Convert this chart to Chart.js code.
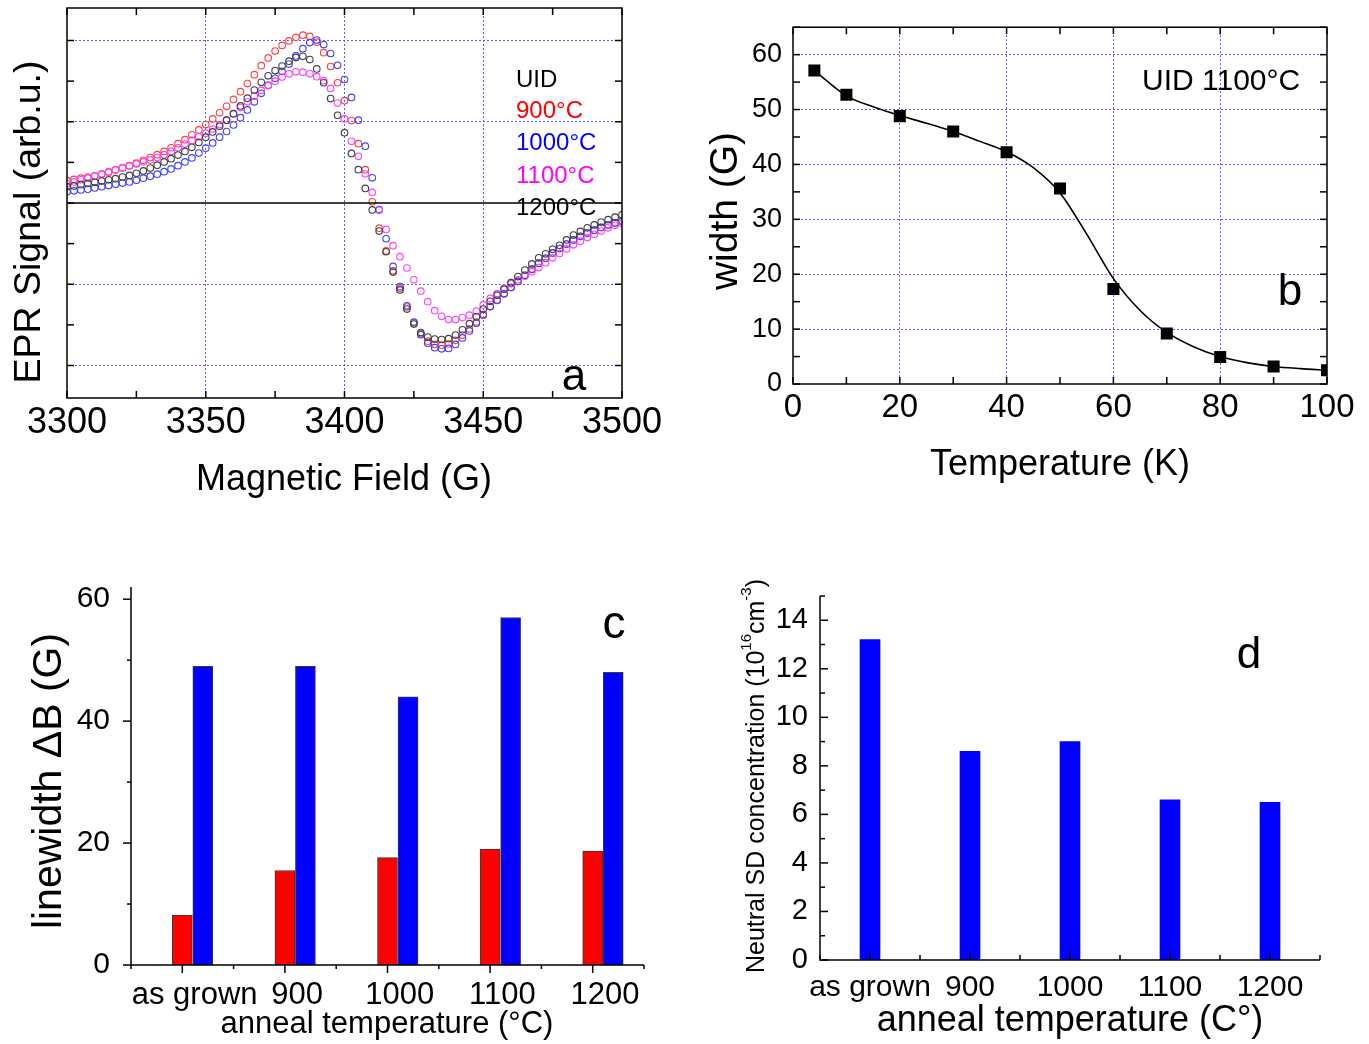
<!DOCTYPE html>
<html>
<head>
<meta charset="utf-8">
<script src="https://cdn.jsdelivr.net/npm/chart.js@4.4.1/dist/chart.umd.min.js"></script>
<style>
  html, body { margin: 0; padding: 0; background: #fff; }
  #wrap { position: relative; width: 1369px; height: 1044px; }
  #wrap canvas { position: absolute; left: 0; top: 0; width: 1369px; height: 1044px; }
</style>
</head>
<body>
<div id="wrap">
  <canvas id="chartA" width="1369" height="1044"></canvas>
  <canvas id="chartB" width="1369" height="1044"></canvas>
  <canvas id="chartC" width="1369" height="1044"></canvas>
  <canvas id="chartD" width="1369" height="1044"></canvas>
</div>
<script>
// ---- panel a : EPR spectra (signal in arb. units, 1 unit = one tick)
const fieldG = [
  3300, 3302.5, 3305, 3307.5, 3310, 3312.5, 3315, 3317.5, 3320, 3322.5,
  3325, 3327.5, 3330, 3332.5, 3335, 3337.5, 3340, 3342.5, 3345, 3347.5,
  3350, 3352.5, 3355, 3357.5, 3360, 3362.5, 3365, 3367.5, 3370, 3372.5,
  3375, 3377.5, 3380, 3382.5, 3385, 3387.5, 3390, 3392.5, 3395, 3397.5,
  3400, 3402.5, 3405, 3407.5, 3410, 3412.5, 3415, 3417.5, 3420, 3422.5,
  3425, 3427.5, 3430, 3432.5, 3435, 3437.5, 3440, 3442.5, 3445, 3447.5,
  3450, 3452.5, 3455, 3457.5, 3460, 3462.5, 3465, 3467.5, 3470, 3472.5,
  3475, 3477.5, 3480, 3482.5, 3485, 3487.5, 3490, 3492.5, 3495, 3497.5,
  3500
];
const sig900 = [
  0.55, 0.58, 0.61, 0.64, 0.67, 0.71, 0.76, 0.81, 0.86, 0.92,
  0.98, 1.05, 1.12, 1.19, 1.27, 1.36, 1.46, 1.56, 1.68, 1.80,
  1.93, 2.07, 2.22, 2.38, 2.55, 2.74, 2.94, 3.16, 3.38, 3.57,
  3.74, 3.88, 3.99, 4.08, 4.13, 4.10, 3.96, 3.70, 3.36, 2.96,
  2.52, 2.03, 1.46, 0.82, 0.03, -0.62, -1.18, -1.67, -2.10, -2.56,
  -2.95, -3.22, -3.40, -3.48, -3.50, -3.47, -3.38, -3.25, -3.10, -2.93,
  -2.74, -2.55, -2.40, -2.24, -2.08, -1.93, -1.78, -1.63, -1.48, -1.36,
  -1.23, -1.12, -1.01, -0.91, -0.82, -0.74, -0.67, -0.60, -0.54, -0.49,
  -0.45
];
const sig1000 = [
  0.28, 0.30, 0.32, 0.34, 0.37, 0.40, 0.43, 0.46, 0.49, 0.52,
  0.56, 0.61, 0.66, 0.71, 0.77, 0.84, 0.92, 1.01, 1.11, 1.23,
  1.35, 1.48, 1.62, 1.76, 1.92, 2.10, 2.29, 2.49, 2.70, 2.90,
  3.07, 3.24, 3.42, 3.62, 3.80, 3.95, 4.01, 3.90, 3.68, 3.39,
  3.04, 2.60, 2.04, 1.40, 0.62, -0.16, -0.88, -1.56, -2.06, -2.53,
  -2.93, -3.24, -3.45, -3.56, -3.59, -3.58, -3.48, -3.32, -3.15, -2.96,
  -2.76, -2.55, -2.39, -2.23, -2.08, -1.93, -1.78, -1.63, -1.48, -1.36,
  -1.23, -1.12, -1.01, -0.91, -0.82, -0.74, -0.67, -0.60, -0.54, -0.49,
  -0.45
];
const sig1100 = [
  0.48, 0.52, 0.57, 0.61, 0.66, 0.72, 0.77, 0.82, 0.87, 0.91,
  0.96, 1.01, 1.06, 1.12, 1.19, 1.27, 1.36, 1.45, 1.54, 1.63,
  1.72, 1.82, 1.93, 2.04, 2.19, 2.35, 2.49, 2.63, 2.77, 2.89,
  3.00, 3.10, 3.18, 3.23, 3.22, 3.18, 3.11, 3.01, 2.82, 2.46,
  2.07, 1.52, 1.15, 0.72, 0.26, -0.18, -0.65, -1.05, -1.32, -1.60,
  -1.89, -2.17, -2.43, -2.65, -2.79, -2.87, -2.87, -2.82, -2.76, -2.66,
  -2.51, -2.35, -2.23, -2.10, -1.99, -1.89, -1.80, -1.69, -1.59, -1.47,
  -1.35, -1.24, -1.13, -1.03, -0.94, -0.85, -0.77, -0.69, -0.61, -0.55,
  -0.50
];
const sig1200 = [
  0.40, 0.42, 0.45, 0.48, 0.51, 0.54, 0.57, 0.60, 0.64, 0.68,
  0.73, 0.79, 0.86, 0.93, 1.01, 1.09, 1.18, 1.27, 1.37, 1.49,
  1.62, 1.75, 1.89, 2.04, 2.20, 2.39, 2.58, 2.78, 2.97, 3.13,
  3.26, 3.37, 3.49, 3.58, 3.61, 3.53, 3.30, 2.96, 2.57, 2.16,
  1.73, 1.22, 0.82, 0.36, -0.17, -0.69, -1.20, -1.70, -2.14, -2.61,
  -2.98, -3.19, -3.30, -3.35, -3.36, -3.34, -3.25, -3.12, -2.97, -2.80,
  -2.61, -2.42, -2.27, -2.12, -1.96, -1.81, -1.65, -1.50, -1.35, -1.25,
  -1.14, -1.04, -0.91, -0.79, -0.70, -0.61, -0.54, -0.47, -0.41, -0.35,
  -0.29
];

// ---- panel b : linewidth vs temperature (UID 1100°C)
const tempK = [4, 10, 20, 30, 40, 50, 60, 70, 80, 90, 100];
const widthG = [57.1, 52.7, 48.8, 46.0, 42.2, 35.6, 17.3, 9.2, 4.9, 3.2, 2.5];
const fitTempK = [4, 10, 15, 20, 25, 30, 35, 40, 45, 50, 55, 60, 65, 70, 75, 80, 85, 90, 95, 100];
const fitWidthG = [57.1, 52.5, 50.5, 48.9, 47.5, 46.0, 44.2, 42.3, 39.4, 34.8, 27.3, 19.2, 13.4, 9.4, 6.8, 5.0, 3.9, 3.2, 2.8, 2.5];

// ---- panels c and d : vs anneal temperature
const annealLabels = ['as grown', '900', '1000', '1100', '1200'];
const linewidthRed = [8.2, 15.5, 17.6, 19.0, 18.7];
const linewidthBlue = [49.0, 49.0, 44.0, 57.0, 48.0];
const sdConc = [13.2, 8.6, 9.0, 6.6, 6.5];

Chart.defaults.font.family = "'Liberation Sans', Arial, sans-serif";
Chart.defaults.color = '#000';
Chart.defaults.animation = false;

const GRID_BLUE = '#5a5aff';
const GRID_GREEN = '#b8f0b8';

function range(a, b, step) {
  const out = [];
  for (let v = a; v <= b + 1e-9; v += step) out.push(+v.toFixed(4));
  return out;
}

// frame, axis lines and tick marks
const frameTicks = {
  id: 'frameTicks',
  afterDatasetsDraw(chart, args, opts) {
    const { ctx, chartArea: a } = chart;
    ctx.save();
    ctx.strokeStyle = '#000';
    ctx.lineWidth = opts.lineWidth || 1.5;
    if (opts.zeroY) {
      const y0 = chart.scales.y.getPixelForValue(0);
      ctx.beginPath();
      ctx.moveTo(a.left, y0);
      ctx.lineTo(a.right, y0);
      ctx.stroke();
    }
    ctx.beginPath();
    if (opts.box) {
      ctx.rect(a.left, a.top, a.right - a.left, a.bottom - a.top);
    } else {
      ctx.moveTo(a.left, a.top);
      ctx.lineTo(a.left, a.bottom);
      ctx.lineTo(a.right, a.bottom);
    }
    ctx.stroke();
    (opts.marks || []).forEach(m => {
      const sc = chart.scales[m.scale];
      const d = m.inward ? m.len : -m.len;
      m.values.forEach(v => {
        const p = sc.getPixelForValue(v);
        m.edges.forEach(e => {
          ctx.beginPath();
          if (e === 'bottom') { ctx.moveTo(p, a.bottom); ctx.lineTo(p, a.bottom - d); }
          if (e === 'top') { ctx.moveTo(p, a.top); ctx.lineTo(p, a.top + d); }
          if (e === 'left') { ctx.moveTo(a.left, p); ctx.lineTo(a.left + d, p); }
          if (e === 'right') { ctx.moveTo(a.right, p); ctx.lineTo(a.right - d, p); }
          ctx.stroke();
        });
      });
    });
    ctx.restore();
  }
};

// free text: axis titles, panel letters, legend words
const panelText = {
  id: 'panelText',
  afterDraw(chart, args, opts) {
    const ctx = chart.ctx;
    (opts.items || []).forEach(it => {
      ctx.save();
      ctx.translate(it.x, it.y);
      if (it.rot) ctx.rotate(it.rot * Math.PI / 180);
      ctx.fillStyle = it.color || '#000';
      ctx.textBaseline = it.baseline || 'middle';
      const font = s => s + 'px ' + Chart.defaults.font.family;
      if (it.parts) {
        // text with superscripts
        let total = 0;
        it.parts.forEach(p => {
          ctx.font = font(p.sup ? it.size * 0.6 : it.size);
          total += ctx.measureText(p.t).width;
        });
        let x = -total / 2;
        ctx.textAlign = 'left';
        it.parts.forEach(p => {
          ctx.font = font(p.sup ? it.size * 0.6 : it.size);
          ctx.fillText(p.t, x, p.sup ? -it.size * 0.42 : 0);
          x += ctx.measureText(p.t).width;
        });
      } else {
        ctx.font = font(it.size);
        ctx.textAlign = it.align || 'center';
        ctx.fillText(it.text, 0, 0);
      }
      ctx.restore();
    });
  }
};

Chart.register(frameTicks, panelText);

const noLegend = { display: false };
const noTip = { enabled: false };

// ---------- panel a
function eprSet(values, color) {
  return {
    data: fieldG.map((f, i) => ({ x: f, y: values[i] })),
    showLine: false,
    pointStyle: 'circle',
    pointRadius: 3.3,
    pointBorderWidth: 1.1,
    pointBorderColor: color,
    pointBackgroundColor: 'rgba(0,0,0,0)'
  };
}

new Chart(document.getElementById('chartA'), {
  type: 'line',
  data: {
    datasets: [
      eprSet(sig1200, '#404040'),
      eprSet(sig1100, '#ff40ff'),
      eprSet(sig1000, '#4040ff'),
      eprSet(sig900, '#ff4040')
    ]
  },
  options: {
    responsive: false,
    layout: { padding: { left: 0, top: 8, right: 747, bottom: 534 } },
    plugins: {
      legend: noLegend, tooltip: noTip,
      frameTicks: {
        box: true, zeroY: true,
        marks: [
          { scale: 'x', values: range(3300, 3500, 25), edges: ['top', 'bottom'], len: 7, inward: true },
          { scale: 'y', values: range(-4, 4, 1), edges: ['left', 'right'], len: 7, inward: true }
        ]
      },
      panelText: {
        items: [
          { text: 'EPR Signal (arb.u.)', x: 30, y: 222, size: 37.5, rot: -90 },
          { text: 'Magnetic Field (G)', x: 344, y: 480, size: 36 },
          { text: 'UID', x: 516, y: 87, size: 24, align: 'left', baseline: 'alphabetic' },
          { text: '900°C', x: 516, y: 118, size: 24, align: 'left', baseline: 'alphabetic', color: '#ff0000' },
          { text: '1000°C', x: 516, y: 150, size: 24, align: 'left', baseline: 'alphabetic', color: '#0000ff' },
          { text: '1100°C', x: 516, y: 183, size: 24, align: 'left', baseline: 'alphabetic', color: '#ff00ff' },
          { text: '1200°C', x: 516, y: 215, size: 24, align: 'left', baseline: 'alphabetic' },
          { text: 'a', x: 574, y: 390, size: 44, baseline: 'alphabetic' }
        ]
      }
    },
    scales: {
      x: {
        type: 'linear', min: 3300, max: 3500,
        afterFit: s => { s.height = 112; },
        ticks: { stepSize: 50, padding: 3, font: { size: 36 }, callback: v => String(v) },
        grid: {
          drawTicks: false,
          color: c => (c.tick.value > 3300 && c.tick.value < 3500) ? GRID_BLUE : 'rgba(0,0,0,0)'
        },
        border: { display: false, dash: [2, 2] }
      },
      y: {
        type: 'linear', min: -4.8, max: 4.8,
        afterFit: s => { s.width = 67; },
        ticks: { display: false, stepSize: 1 },
        grid: {
          drawTicks: false,
          color: c => [-4, -2, 2, 4].includes(c.tick.value) ? GRID_BLUE : 'rgba(0,0,0,0)'
        },
        border: { display: false, dash: [2, 2] }
      }
    }
  }
});

// ---------- panel b
new Chart(document.getElementById('chartB'), {
  type: 'line',
  data: {
    datasets: [
      {
        data: tempK.map((t, i) => ({ x: t, y: widthG[i] })),
        showLine: false,
        pointStyle: 'rect',
        pointRadius: 8.5,
        pointBackgroundColor: '#000',
        pointBorderColor: '#000',
        pointBorderWidth: 0
      },
      {
        data: fitTempK.map((t, i) => ({ x: t, y: fitWidthG[i] })),
        borderColor: '#000',
        borderWidth: 1.6,
        pointRadius: 0,
        cubicInterpolationMode: 'monotone'
      }
    ]
  },
  options: {
    responsive: false,
    layout: { padding: { left: 690, top: 8, right: 42, bottom: 544 } },
    plugins: {
      legend: noLegend, tooltip: noTip,
      frameTicks: {
        box: true,
        marks: [
          { scale: 'x', values: range(0, 100, 10), edges: ['top', 'bottom'], len: 7, inward: true },
          { scale: 'y', values: range(0, 65, 5), edges: ['left', 'right'], len: 7, inward: true }
        ]
      },
      panelText: {
        items: [
          { text: 'width (G)', x: 726, y: 211, size: 39, rot: -90 },
          { text: 'Temperature (K)', x: 1060, y: 465, size: 36 },
          { text: 'UID 1100°C', x: 1142, y: 90, size: 30, align: 'left', baseline: 'alphabetic' },
          { text: 'b', x: 1290, y: 305, size: 44, baseline: 'alphabetic' }
        ]
      }
    },
    scales: {
      x: {
        type: 'linear', min: 0, max: 100,
        afterFit: s => { s.height = 116; },
        ticks: { stepSize: 10, padding: 4, font: { size: 33 }, callback: v => (v % 20 === 0 ? String(v) : null) },
        grid: {
          drawTicks: false,
          color: c => {
            const v = c.tick.value;
            if (v <= 0 || v >= 100) return 'rgba(0,0,0,0)';
            return v % 20 === 0 ? GRID_BLUE : GRID_GREEN;
          }
        },
        border: { display: false, dash: [2, 2] }
      },
      y: {
        type: 'linear', min: 0, max: 65,
        afterFit: s => { s.width = 103; },
        ticks: { stepSize: 5, padding: 11, font: { size: 27 }, callback: v => (v % 10 === 0 && v <= 60 ? String(v) : null) },
        grid: {
          drawTicks: false,
          color: c => {
            const v = c.tick.value;
            if (v <= 0 || v >= 65) return 'rgba(0,0,0,0)';
            return v % 10 === 0 ? GRID_BLUE : GRID_GREEN;
          }
        },
        border: { display: false, dash: [2, 2] }
      }
    }
  }
});

// ---------- panel c
const catIdx = annealLabels.map((l, i) => i);
new Chart(document.getElementById('chartC'), {
  type: 'bar',
  data: {
    datasets: [
      {
        data: linewidthRed.map((v, i) => ({ x: i + 0.5, y: v })),
        backgroundColor: '#ff0000',
        borderColor: '#3a3a3a',
        borderWidth: 1,
        barThickness: 20,
        grouped: false
      },
      {
        data: linewidthBlue.map((v, i) => ({ x: i + 0.7, y: v })),
        backgroundColor: '#0000ff',
        borderColor: '#3a3a3a',
        borderWidth: 1,
        barThickness: 20,
        grouped: false
      }
    ]
  },
  options: {
    responsive: false,
    layout: { padding: { left: 0, top: 587, right: 725, bottom: 0 } },
    plugins: {
      legend: noLegend, tooltip: noTip,
      frameTicks: {
        box: false,
        marks: [
          { scale: 'x', values: catIdx.map(i => i + 0.5), edges: ['bottom'], len: 8, inward: false },
          { scale: 'x', values: range(0, 5, 1), edges: ['bottom'], len: 4, inward: false },
          { scale: 'y', values: [0, 20, 40, 60], edges: ['left'], len: 8, inward: false },
          { scale: 'y', values: [10, 30, 50], edges: ['left'], len: 4, inward: false }
        ]
      },
      panelText: {
        items: [
          { text: 'linewidth \u0394B (G)', x: 50, y: 781, size: 41, rot: -90 },
          { text: 'anneal temperature (°C)', x: 387, y: 1024, size: 31 },
          { text: 'c', x: 614, y: 638, size: 46, baseline: 'alphabetic' }
        ]
      }
    },
    scales: {
      x: {
        type: 'linear', min: 0, max: 5, offset: false,
        afterFit: s => { s.height = 79; },
        afterBuildTicks: s => { s.ticks = catIdx.map(i => ({ value: i + 0.62 })); },
        ticks: { padding: 4, font: { size: 31 }, autoSkip: false, maxRotation: 0, callback: (v, i) => annealLabels[i] },
        grid: { display: false },
        border: { display: false }
      },
      y: {
        type: 'linear', min: 0, max: 62,
        afterFit: s => { s.width = 131; },
        afterBuildTicks: s => { s.ticks = [0, 20, 40, 60].map(v => ({ value: v })); },
        ticks: { padding: 13, font: { size: 30 }, callback: v => String(v) },
        grid: { display: false },
        border: { display: false }
      }
    }
  }
});

// ---------- panel d
new Chart(document.getElementById('chartD'), {
  type: 'bar',
  data: {
    datasets: [
      {
        data: sdConc.map((v, i) => ({ x: i + 0.5, y: v })),
        backgroundColor: '#0000ff',
        borderWidth: 0,
        barThickness: 20,
        grouped: false
      }
    ]
  },
  options: {
    responsive: false,
    layout: { padding: { left: 690, top: 596, right: 49, bottom: 0 } },
    plugins: {
      legend: noLegend, tooltip: noTip,
      frameTicks: {
        box: false,
        marks: [
          { scale: 'x', values: catIdx.map(i => i + 0.5), edges: ['bottom'], len: 8, inward: true },
          { scale: 'x', values: range(0, 5, 1), edges: ['bottom'], len: 5, inward: true },
          { scale: 'y', values: range(0, 14, 2), edges: ['left'], len: 8, inward: true },
          { scale: 'y', values: range(1, 15, 2), edges: ['left'], len: 5, inward: true }
        ]
      },
      panelText: {
        items: [
          {
            parts: [
              { t: 'Neutral SD concentration (10' }, { t: '16', sup: true },
              { t: 'cm' }, { t: '-3', sup: true }, { t: ')' }
            ],
            x: 757, y: 776, size: 25, rot: -90
          },
          { text: 'anneal temperature (C°)', x: 1070, y: 1021, size: 36 },
          { text: 'd', x: 1249, y: 668, size: 44, baseline: 'alphabetic' }
        ]
      }
    },
    scales: {
      x: {
        type: 'linear', min: 0, max: 5, offset: false,
        afterFit: s => { s.height = 84; },
        afterBuildTicks: s => { s.ticks = catIdx.map(i => ({ value: i + 0.5 })); },
        ticks: { padding: 2, font: { size: 30 }, autoSkip: false, maxRotation: 0, callback: (v, i) => annealLabels[i] },
        grid: { display: false },
        border: { display: false }
      },
      y: {
        type: 'linear', min: 0, max: 15,
        afterFit: s => { s.width = 130; },
        afterBuildTicks: s => { s.ticks = range(0, 14, 2).map(v => ({ value: v })); },
        ticks: { padding: 4, font: { size: 29 }, callback: v => String(v) },
        grid: { display: false },
        border: { display: false }
      }
    }
  }
});
</script>
</body>
</html>
